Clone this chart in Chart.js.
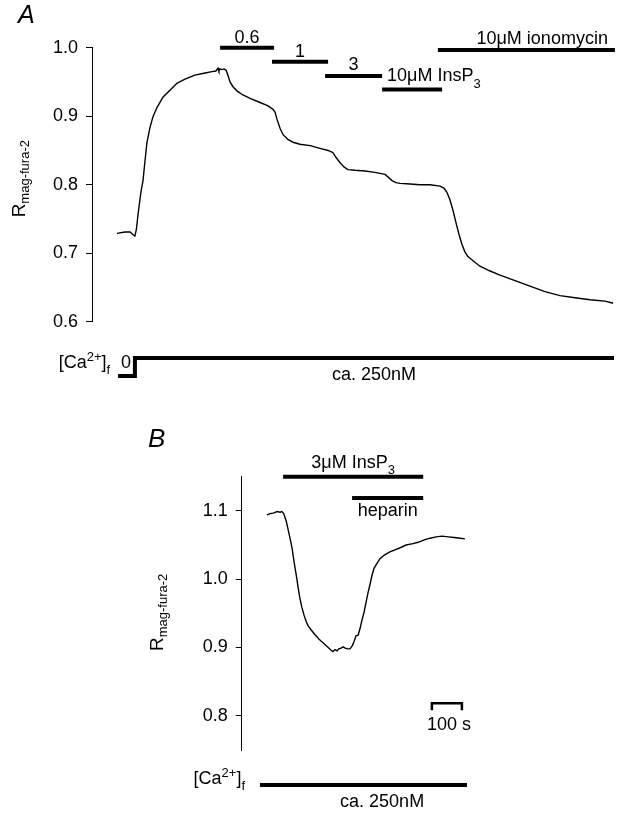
<!DOCTYPE html>
<html>
<head>
<meta charset="utf-8">
<script src="https://cdn.jsdelivr.net/npm/chart.js@4"></script>
<style>
  html, body { margin: 0; padding: 0; background: #fff; }
  #wrap { position: relative; width: 627px; height: 816px; }
  canvas { position: absolute; left: 0; }
</style>
</head>
<body>
<div id="wrap">
  <canvas id="chartA" width="627" height="400" style="top:0"></canvas>
  <canvas id="chartB" width="627" height="416" style="top:400px"></canvas>
</div>
<script>
// ---- panel A: mag-fura-2 ratio vs time (s)
const timeA = [83, 110, 127, 137, 143, 148, 153, 163, 170, 177, 183, 193, 203, 217, 237, 260, 283, 310, 343, 377,
  400, 413, 420, 423, 427, 433, 440, 447, 453, 460, 470, 483, 503, 527, 560, 587, 603, 610, 617, 627,
  637, 653, 670, 693, 727, 760, 787, 803, 813, 827, 840, 853, 877, 910, 943, 977, 990, 1000, 1013, 1027,
  1060, 1093, 1127, 1160, 1173, 1183, 1193, 1203, 1213, 1223, 1233, 1243, 1253, 1267, 1293, 1327, 1360, 1410, 1460, 1510,
  1560, 1610, 1660, 1710, 1737];
const ratioA = [0.729, 0.731, 0.731, 0.727, 0.725, 0.735, 0.755, 0.789, 0.806, 0.836, 0.861, 0.883, 0.899, 0.913, 0.928, 0.938, 0.948, 0.954, 0.960, 0.963,
  0.965, 0.966, 0.970, 0.966, 0.969, 0.968, 0.969, 0.967, 0.960, 0.950, 0.943, 0.937, 0.931, 0.926, 0.920, 0.915, 0.910, 0.906, 0.895, 0.882,
  0.873, 0.866, 0.862, 0.859, 0.857, 0.853, 0.850, 0.847, 0.840, 0.832, 0.826, 0.822, 0.821, 0.820, 0.818, 0.815, 0.810, 0.806, 0.803, 0.802,
  0.801, 0.800, 0.800, 0.798, 0.795, 0.789, 0.778, 0.763, 0.745, 0.728, 0.713, 0.702, 0.695, 0.690, 0.681, 0.674, 0.668, 0.660, 0.652, 0.644,
  0.638, 0.635, 0.632, 0.630, 0.627];
const ticksA = [0.6, 0.7, 0.8, 0.9, 1.0];

// stimulus bars A
const stimA = ['0.6', '1', '3', '10μM InsP_{3}', '10μM ionomycin'];
const stimStartA = [427, 600, 777, 967, 1153];
const stimEndA = [607, 787, 967, 1167, 1743];
const stimLevelA = [1.000, 0.9795, 0.9586, 0.939, 0.9966];

// free [Ca2+] (nM) A
const caTimeA = [87, 143, 143, 1740];
const caA = [0, 0, 250, 250];

// ---- panel B
const timeB = [84, 95, 108, 118, 128, 134, 140, 144, 149, 154, 161, 168, 173, 178, 184, 188, 194, 201, 208, 215,
  221, 231, 244, 258, 271, 281, 291, 298, 304, 311, 318, 324, 331, 338, 345, 353, 361, 368, 374, 381,
  388, 394, 401, 408, 414, 421, 428, 434, 441, 451, 461, 471, 478, 494, 511, 528, 548, 571, 588, 611,
  628, 648, 668, 688, 708, 728, 744];
const ratioB = [1.094, 1.096, 1.097, 1.099, 1.098, 1.099, 1.096, 1.091, 1.084, 1.074, 1.060, 1.045, 1.030, 1.016, 1.000, 0.988, 0.972, 0.958, 0.947, 0.938,
  0.932, 0.926, 0.919, 0.912, 0.907, 0.903, 0.899, 0.896, 0.894, 0.897, 0.895, 0.898, 0.899, 0.901, 0.899, 0.898, 0.898, 0.902, 0.908, 0.917,
  0.918, 0.927, 0.940, 0.952, 0.965, 0.980, 0.993, 1.005, 1.016, 1.023, 1.030, 1.034, 1.036, 1.040, 1.043, 1.046, 1.050, 1.052, 1.054, 1.058,
  1.060, 1.062, 1.063, 1.062, 1.061, 1.060, 1.059];
const ticksB = [0.8, 0.9, 1.0, 1.1];

const stimB = ['3μM InsP_{3}', 'heparin'];
const stimStartB = [138, 368];
const stimEndB = [605, 605];
const stimLevelB = [1.150, 1.119];

const caTimeB = [61, 751];
const caB = [250, 250];

const scaleBarStart = 634;   // s
const scaleBarLength = 100;  // s

const FONT = '"Liberation Sans", Arial, sans-serif';

function parseRich(s) {
  const parts = [];
  const re = /([_^])\{([^}]*)\}|([^_^]+)/g;
  let m;
  while ((m = re.exec(s))) {
    if (m[3]) parts.push({ t: m[3], k: 0 });
    else parts.push({ t: m[2], k: m[1] === '_' ? 1 : -1 });
  }
  return parts;
}

function drawRich(ctx, s, x, y, align, size, subShift) {
  const parts = parseRich(s);
  const small = Math.round(size * 0.7);
  const shift = subShift || 0.34;
  let w = 0;
  parts.forEach(p => {
    ctx.font = (p.k ? small : size) + 'px ' + FONT;
    p.w = ctx.measureText(p.t).width;
    w += p.w;
  });
  let cx = align === 'center' ? x - w / 2 : align === 'right' ? x - w : x;
  ctx.textAlign = 'left';
  ctx.textBaseline = 'alphabetic';
  parts.forEach(p => {
    ctx.font = (p.k ? small : size) + 'px ' + FONT;
    const dy = p.k === 1 ? size * shift : p.k === -1 ? -size * 0.38 : 0;
    ctx.fillText(p.t, cx, y + dy);
    cx += p.w;
  });
}

const marksPlugin = {
  id: 'marks',
  afterDatasetsDraw(chart, args, opts) {
    const ctx = chart.ctx;
    ctx.save();
    ctx.fillStyle = '#000';
    // panel letter
    ctx.font = 'italic ' + opts.letter.size + 'px ' + FONT;
    ctx.textAlign = 'left';
    ctx.textBaseline = 'alphabetic';
    ctx.fillText(opts.letter.text, opts.letter.x, opts.letter.y);
    // rotated axis title
    const ca = chart.chartArea;
    ctx.save();
    ctx.translate(opts.title.x, (ca.top + ca.bottom) / 2 + opts.title.dy);
    ctx.rotate(-Math.PI / 2);
    drawRich(ctx, 'R_{mag-fura-2}', 0, 0, 'center', 19, 0.22);
    ctx.restore();
    // texts anchored to data
    opts.texts.forEach(tx => {
      const px = chart.scales.x.getPixelForValue(tx.x) + (tx.dx || 0);
      const py = chart.scales[tx.axis || 'y'].getPixelForValue(tx.y) + (tx.dy || 0);
      drawRich(ctx, tx.text, px, py, tx.align || 'center', tx.size || 18);
    });
    ctx.restore();
  }
};

function stimDatasets(start, end, level) {
  return start.map((s, i) => ({
    data: [{ x: s, y: level[i] }, { x: end[i], y: level[i] }],
    borderColor: '#000', borderWidth: 4, borderCapStyle: 'butt',
    pointRadius: 0, clip: false, yAxisID: 'y'
  }));
}

function stimTexts(labels, start, end, level, styles) {
  return labels.map((t, i) => {
    const st = styles[i];
    const x = st.align === 'left' ? start[i] : st.align === 'right' ? end[i] : (start[i] + end[i]) / 2;
    return { text: t, x: x, y: level[i], dx: st.dx || 0, dy: st.dy, align: st.align, size: 18 };
  });
}

function panelOptions(p) {
  return {
    responsive: false,
    animation: false,
    devicePixelRatio: 1,
    layout: { padding: p.padding },
    plugins: {
      legend: { display: false },
      tooltip: { enabled: false },
      marks: p.marks
    },
    scales: {
      x: { type: 'linear', display: false, min: p.xMin, max: p.xMax, bounds: 'data' },
      y: {
        type: 'linear', position: 'left', min: p.yMin, max: p.yMax, bounds: 'data',
        afterBuildTicks: s => { s.ticks = p.ticks.map(v => ({ value: v })); },
        afterFit: s => { s.width = p.axisX; },
        border: { display: true, color: '#000', width: 1 },
        grid: { display: true, drawOnChartArea: false, drawTicks: true, tickLength: 6, color: '#000', lineWidth: 1 },
        ticks: { color: '#000', padding: 8, font: { family: 'Liberation Sans', size: 18 }, callback: v => v.toFixed(1) }
      },
      ca: { type: 'linear', display: false, min: p.caMin, max: p.caMax, bounds: 'data' }
    }
  };
}

// ---- chart A
new Chart(document.getElementById('chartA').getContext('2d'), {
  type: 'line',
  data: {
    datasets: [
      {
        data: timeA.map((t, i) => ({ x: t, y: ratioA[i] })),
        borderColor: '#000', borderWidth: 1.4, pointRadius: 0, tension: 0, clip: false, yAxisID: 'y'
      },
      ...stimDatasets(stimStartA, stimEndA, stimLevelA),
      {
        data: caTimeA.map((t, i) => ({ x: t, y: caA[i] })),
        borderColor: '#000', borderWidth: 4, borderJoinStyle: 'miter', borderCapStyle: 'butt',
        pointRadius: 0, clip: false, yAxisID: 'ca'
      }
    ]
  },
  options: panelOptions({
    padding: { left: 0, right: 10, top: 47.7, bottom: 78.3 },
    axisX: 92, xMin: 0, xMax: 1750, yMin: 0.6, yMax: 1.0, ticks: ticksA,
    caMin: 755, caMax: 4560,
    marks: {
      letter: { text: 'A', x: 18, y: 23, size: 25 },
      title: { x: 25, dy: -6 },
      texts: [
        ...stimTexts(stimA, stimStartA, stimEndA, stimLevelA, [
          { align: 'center', dy: -5 }, { align: 'center', dy: -5 }, { align: 'center', dy: -6 },
          { align: 'left', dx: 5, dy: -8 }, { align: 'right', dx: -7, dy: -6 }
        ]),
        { text: '[Ca^{2+}]_{f}', x: caTimeA[0], y: caA[2], axis: 'ca', dx: -8, dy: 10, align: 'right', size: 18 },
        { text: '0', x: caTimeA[0], y: caA[0], axis: 'ca', dx: 3, dy: -8, align: 'left', size: 18 },
        { text: 'ca. 250nM', x: 940, y: caA[3], axis: 'ca', dy: 22, align: 'center', size: 18 }
      ]
    }
  }),
  plugins: [marksPlugin]
});

// ---- chart B
const scaleBarTop = 0.8186, scaleBarFoot = 0.808;
new Chart(document.getElementById('chartB').getContext('2d'), {
  type: 'line',
  data: {
    datasets: [
      {
        data: timeB.map((t, i) => ({ x: t, y: ratioB[i] })),
        borderColor: '#000', borderWidth: 1.4, pointRadius: 0, tension: 0, clip: false, yAxisID: 'y'
      },
      ...stimDatasets(stimStartB, stimEndB, stimLevelB),
      {
        data: caTimeB.map((t, i) => ({ x: t, y: caB[i] })),
        borderColor: '#000', borderWidth: 4, borderCapStyle: 'butt',
        pointRadius: 0, clip: false, yAxisID: 'ca'
      },
      {
        data: [
          { x: scaleBarStart, y: scaleBarFoot }, { x: scaleBarStart, y: scaleBarTop },
          { x: scaleBarStart + scaleBarLength, y: scaleBarTop }, { x: scaleBarStart + scaleBarLength, y: scaleBarFoot }
        ],
        borderColor: '#000', borderWidth: 2.5, borderJoinStyle: 'miter', pointRadius: 0, clip: false, yAxisID: 'y'
      }
    ]
  },
  options: panelOptions({
    padding: { left: 0, right: 151.3, top: 76.7, bottom: 66 },
    axisX: 241.7, xMin: 0, xMax: 780, yMin: 0.75, yMax: 1.15, ticks: ticksB,
    caMin: 736, caMax: 4532,
    marks: {
      letter: { text: 'B', x: 148, y: 47, size: 26 },
      title: { x: 163, dy: -1 },
      texts: [
        ...stimTexts(stimB, stimStartB, stimEndB, stimLevelB, [
          { align: 'center', dy: -9 }, { align: 'center', dy: 18 }
        ]),
        { text: '[Ca^{2+}]_{f}', x: caTimeB[0], y: caB[0], axis: 'ca', dx: -15, dy: -1, align: 'right', size: 18 },
        { text: 'ca. 250nM', x: 468, y: caB[1], axis: 'ca', dy: 22, align: 'center', size: 18 },
        { text: '100 s', x: scaleBarStart + scaleBarLength / 2, y: scaleBarTop, dx: 2, dy: 27, align: 'center', size: 18 }
      ]
    }
  }),
  plugins: [marksPlugin]
});
</script>
</body>
</html>
